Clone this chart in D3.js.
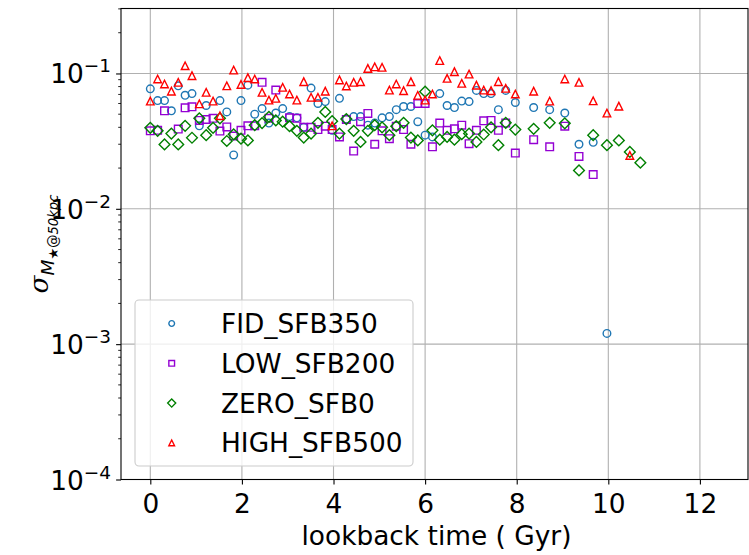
<!DOCTYPE html>
<html>
<head>
<meta charset="utf-8">
<script src="https://cdn.jsdelivr.net/npm/d3@7"></script>
<style>
  body { margin: 0; background: #fff; }
  svg { display: block; font-family: "DejaVu Sans", sans-serif; }
</style>
</head>
<body>
<div id="chart"></div>
<script>
// lookback time of each snapshot (Gyr)
const times = [0, 0.16, 0.31, 0.46, 0.61, 0.76, 0.91, 1.07, 1.22, 1.37,
  1.52, 1.67, 1.82, 1.98, 2.13, 2.28, 2.44, 2.59, 2.74, 2.89,
  3.04, 3.2, 3.35, 3.51, 3.66, 3.82, 3.97, 4.13, 4.28, 4.44,
  4.59, 4.75, 4.9, 5.06, 5.22, 5.37, 5.53, 5.69, 5.84, 6.0,
  6.16, 6.32, 6.48, 6.64, 6.8, 6.96, 7.12, 7.28, 7.44, 7.6,
  7.76, 7.97, 8.37, 8.72, 9.05, 9.36, 9.67, 9.97, 10.23, 10.47, 10.7];

const fidSFB350 = [0.077, 0.063, 0.063, 0.053, 0.081, 0.069, 0.071, 0.041, 0.058, null,
  0.063, 0.052, 0.025, 0.063, 0.082, 0.050, 0.055, 0.043, 0.051, 0.055,
  0.048, 0.047, 0.040, 0.078, 0.060, 0.062, 0.038, 0.0655, 0.046, 0.048,
  0.048, 0.0415, 0.043, 0.047, 0.048, 0.054, 0.057, 0.057, 0.044, 0.035,
  0.034, 0.071, 0.058, 0.056, 0.0625, 0.062, 0.075, 0.071, 0.071, 0.054,
  0.075, 0.061, 0.056, 0.054, 0.051, 0.030, 0.031, 0.0012, null, null, null];

const lowSFB200 = [0.0377, 0.038, 0.053, null, 0.0388, 0.0557, 0.0567, 0.045, 0.0457, 0.0466,
  0.0375, 0.0403, 0.0345, 0.038, 0.041, 0.041, 0.086, 0.0466, 0.0754, null,
  0.047, 0.0466, 0.040, 0.040, 0.0385, 0.0408, 0.0385, 0.034, 0.0457, 0.0267,
  0.044, 0.0507, 0.030, 0.0377, 0.033, 0.0408, 0.0385, 0.030, 0.060, 0.060,
  0.0287, 0.043, 0.038, 0.039, 0.0415, 0.0303, 0.038, 0.0447, 0.045, 0.038,
  0.043, 0.0258, 0.0324, 0.0287, 0.0408, 0.0244, 0.0179, null, null, null, null];

const zeroSFB0 = [0.0397, 0.0377, 0.0299, 0.036, 0.0299, 0.041, 0.0335, 0.0466, 0.035, 0.0397,
  0.0466, 0.0317, 0.0355, 0.033, 0.032, 0.0415, 0.043, 0.0478, 0.045, 0.044,
  0.0408, 0.0377, 0.0336, 0.036, 0.0432, 0.052, 0.0444, 0.036, 0.046, 0.0377,
  0.0312, 0.0377, 0.0415, 0.040, 0.035, 0.0408, 0.0432, 0.0336, 0.032, 0.0733,
  0.038, 0.0324, 0.034, 0.0324, 0.0356, 0.036, 0.0312, 0.0354, 0.040, 0.0295,
  0.0432, 0.0385, 0.039, 0.0432, 0.0428, 0.0192, 0.035, 0.0295, 0.032, 0.0263, 0.0219];

const highSFB500 = [0.0625, 0.091, 0.0836, 0.074, 0.086, 0.114, 0.0963, 0.0597, 0.0726, 0.0625,
  0.0487, 0.081, 0.106, 0.083, 0.093, 0.091, 0.0726, 0.0636, 0.0655, 0.079,
  0.0705, 0.0636, 0.087, 0.0666, 0.0666, 0.074, 0.041, 0.0895, 0.0808, 0.086,
  0.087, 0.109, 0.112, 0.111, 0.0754, 0.0836, 0.0746, 0.087, 0.069, 0.0636,
  0.0705, 0.1245, 0.092, 0.103, 0.0846, 0.099, 0.082, 0.0754, 0.0746, 0.087,
  0.0777, 0.0705, 0.074, 0.0625, 0.091, 0.086, 0.0628, 0.051, 0.0573, 0.0248, null];

const seriesNames = ["FID_SFB350", "LOW_SFB200", "ZERO_SFB0", "HIGH_SFB500"];
const seriesColors = ["#1f77b4", "#9400d3", "#008000", "#ff0000"];
const seriesShapes = ["circle", "square", "diamond", "triangle"];
const seriesValues = [fidSFB350, lowSFB200, zeroSFB0, highSFB500];

const xTicks = [0, 2, 4, 6, 8, 10, 12];
const yTicks = [1e-4, 1e-3, 1e-2, 1e-1];
const yTickExps = ["\u22124", "\u22123", "\u22122", "\u22121"];

const width = 749, height = 555;
const plot = { left: 121, right: 748, top: 8.5, bottom: 479.5 };
const FS = 26.4;

const svg = d3.select("#chart").append("svg")
  .attr("width", width).attr("height", height);

const x = d3.scaleLinear().domain([-0.64, 13.05]).range([plot.left, plot.right]);
const y = d3.scaleLog().domain([1e-4, 0.302]).range([plot.bottom, plot.top]);

// grid
const grid = svg.append("g").attr("stroke", "#b0b0b0").attr("stroke-width", 1.1);
grid.selectAll(".gx").data(xTicks).join("line")
  .attr("x1", d => x(d)).attr("x2", d => x(d))
  .attr("y1", plot.top).attr("y2", plot.bottom);
grid.selectAll(".gy").data(yTicks.slice(1)).join("line")
  .attr("y1", d => y(d)).attr("y2", d => y(d))
  .attr("x1", plot.left).attr("x2", plot.right);

// marker paths (S = marker size in px)
const S = 7.6;
function markerPath(shape, s) {
  const h = s / 2;
  if (shape === "square") return `M${-h},${-h}H${h}V${h}H${-h}Z`;
  if (shape === "diamond") { const d = s * 0.707; return `M0,${-d}L${d},0L0,${d}L${-d},0Z`; }
  if (shape === "triangle") return `M0,${-h}L${h},${h}L${-h},${h}Z`;
  return d3.symbol(d3.symbolCircle, Math.PI * h * h)();
}

const marks = svg.append("g");
seriesValues.forEach((vals, i) => {
  const pts = times.map((t, j) => ({ t, v: vals[j] })).filter(d => d.v != null);
  marks.append("g").selectAll("path").data(pts).join("path")
    .attr("transform", d => `translate(${x(d.t)},${y(d.v)})`)
    .attr("d", markerPath(seriesShapes[i], S))
    .attr("fill", "none")
    .attr("stroke", seriesColors[i])
    .attr("stroke-width", 1.4);
});

// axes
const xAxis = svg.append("g").attr("transform", `translate(0,${plot.bottom})`)
  .call(d3.axisBottom(x).tickValues(xTicks).tickSize(4.9).tickPadding(4.9).tickFormat(d3.format("d")));
xAxis.select(".domain").remove();
xAxis.selectAll("text").attr("font-size", FS).attr("fill", "#000")
  .attr("font-family", "DejaVu Sans").attr("dy", "0.9em");
xAxis.selectAll("line").attr("stroke-width", 1.1);

const yMinor = [];
for (let e = -4; e <= -1; e++) for (let m = 2; m <= 9; m++) {
  const v = m * Math.pow(10, e);
  if (v <= 0.302) yMinor.push(v);
}
svg.append("g").selectAll("line").data(yMinor).join("line")
  .attr("x1", plot.left - 2.8).attr("x2", plot.left)
  .attr("y1", d => y(d)).attr("y2", d => y(d))
  .attr("stroke", "#000").attr("stroke-width", 0.85);

const yAxis = svg.append("g").attr("transform", `translate(${plot.left},0)`)
  .call(d3.axisLeft(y).tickValues(yTicks).tickSize(4.9).tickFormat(""));
yAxis.select(".domain").remove();
yAxis.selectAll("line").attr("stroke-width", 1.1);

const yLab = svg.append("g").selectAll("text").data(yTicks).join("text")
  .attr("x", plot.left - 10).attr("y", d => y(d) + 10)
  .attr("text-anchor", "end").attr("font-size", FS).attr("fill", "#000");
yLab.append("tspan").text("10");
yLab.append("tspan").attr("font-size", FS * 0.7).attr("dy", -11)
  .text((d, i) => yTickExps[i]);

// frame
svg.append("rect")
  .attr("x", plot.left).attr("y", plot.top)
  .attr("width", plot.right - plot.left).attr("height", plot.bottom - plot.top)
  .attr("fill", "none").attr("stroke", "#000").attr("stroke-width", 1.1);

// axis labels
svg.append("text")
  .attr("x", (plot.left + plot.right) / 2 + 2).attr("y", 545)
  .attr("text-anchor", "middle").attr("font-size", FS).attr("fill", "#000")
  .text("lookback time ( Gyr)");

const yt = svg.append("text")
  .attr("transform", `translate(48,${(plot.top + plot.bottom) / 2}) rotate(-90)`)
  .attr("text-anchor", "middle").attr("font-size", FS).attr("fill", "#000");
yt.append("tspan").attr("font-family", "DejaVu Serif").attr("font-style", "italic").text("\u03c3");
yt.append("tspan").attr("font-size", FS * 0.7).attr("font-style", "italic").attr("dy", 6).text("M");
yt.append("tspan").attr("font-size", FS * 0.5).attr("dy", 4).text("\u2605@");
yt.append("tspan").attr("font-size", FS * 0.5).attr("font-style", "italic").text("50kpc");

// legend
const leg = svg.append("g");
leg.append("rect")
  .attr("x", 135).attr("y", 300).attr("width", 278).attr("height", 166).attr("rx", 4)
  .attr("fill", "#fff").attr("fill-opacity", 0.8)
  .attr("stroke", "#cccccc").attr("stroke-width", 1.1);
const rows = leg.selectAll(".row").data(seriesNames).join("g")
  .attr("transform", (d, i) => `translate(0,${323.5 + i * 39.8})`);
rows.append("path")
  .attr("transform", "translate(171.7,0)")
  .attr("d", (d, i) => markerPath(seriesShapes[i], S * 0.75))
  .attr("fill", "none").attr("stroke", (d, i) => seriesColors[i]).attr("stroke-width", 1.4);
rows.append("text")
  .attr("x", 221).attr("y", 9.5)
  .attr("font-size", FS).attr("fill", "#000")
  .text(d => d);
</script>
</body>
</html>
